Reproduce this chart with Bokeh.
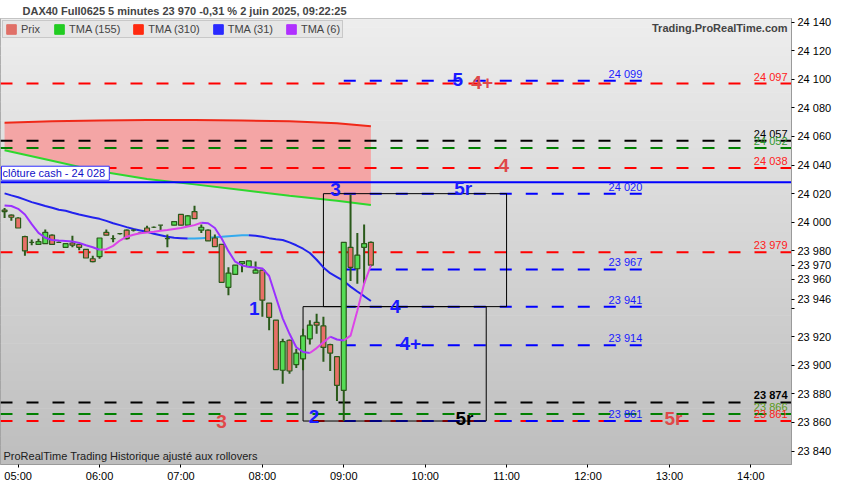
import numpy as np
import pandas as pd
from bokeh.plotting import figure
from bokeh.models import (ColumnDataSource, Label, Legend, LegendItem, FixedTicker,
                          DatetimeTickFormatter, Range1d)
from bokeh.core.properties import value
from bokeh.embed import file_html
from bokeh.resources import INLINE

DAY = "2025-06-02"

# ---------------- data ----------------
bar_start = "04:50"
bar_end = "09:20"
opens = [24008.5, 24005, 24003, 23990, 23986, 23984.5, 23985, 23991, 23986, 23982.5,
         23985.5, 23984.5, 23981, 23974.5, 23976, 23993, 23988.5, 23992, 23994.5, 23994.5,
         23992.5, 23996, 23996.5, 23998, 23988.5, 23998, 24005.5, 23998, 24007.5, 23994.5,
         23994.5, 23989, 23984.5, 23954.5, 23963.5, 23971, 23969, 23964.5, 23966.5, 23943.5,
         23931.5, 23896.5, 23917.5, 23900.5, 23904.5, 23918.5, 23930, 23927.5, 23914.5, 23906,
         23882.5, 23982.5, 23967.5, 23982.5, 23986]
highs = [24010, 24005.5, 24003.5, 23990.5, 23988, 23988.5, 23995, 23991.5, 23986.5, 23985,
         23990.5, 23984.5, 23981, 23976.5, 23989, 23995, 23991, 23992.5, 23995, 23995,
         23993, 23997.5, 23997, 23998, 23991.5, 24000.5, 24005.5, 24005, 24011.5, 23998.5,
         23995, 23991.5, 23984.5, 23968.5, 23970, 23972.5, 23973, 23972.5, 23966.5, 23943.5,
         23931.5, 23918.5, 23918, 23911.5, 23925.5, 23931.5, 23936, 23934, 23915, 23906,
         23986, 24019.5, 23992.5, 23998.5, 23986.5]
lows = [24003, 24001, 23996, 23976.5, 23984, 23984.5, 23985, 23984.5, 23985.5, 23982.5,
        23982.5, 23980.5, 23975, 23972, 23974.5, 23991, 23986, 23991.5, 23988, 23993.5,
        23992, 23993, 23996, 23994.5, 23982.5, 23998, 23998, 23998, 24002.5, 23992.5,
        23987, 23983, 23958, 23949, 23963.5, 23965, 23969, 23964.5, 23934, 23924.5,
        23897, 23887, 23894, 23898, 23896.5, 23914.5, 23922, 23902.5, 23896, 23875,
        23861, 23959, 23957, 23957, 23969]
closes = [24007.5, 24003.5, 23996, 23980, 23986, 23986.5, 23993, 23984.5, 23986, 23985,
          23984, 23982.5, 23975, 23972.5, 23989, 23991, 23988.5, 23992, 23988.5, 23994.5,
          23992.5, 23993.5, 23996.5, 23998, 23988.5, 24000.5, 23998, 24004.5, 24002.5, 23996.5,
          23987, 23983, 23958, 23964.5, 23970, 23972.5, 23973, 23966.5, 23945.5, 23933.5,
          23897, 23916.5, 23896, 23908.5, 23920.5, 23928, 23928, 23912.5, 23908.5, 23886,
          23986, 23968.5, 23977, 23985, 23970]

tma6 = [24011.8, 24011.4, 24009.4, 24005.4, 23998.7, 23992.6, 23989.2, 23987.6, 23987.2, 23986.9,
        23986.6, 23985.6, 23983.9, 23982.5, 23980.8, 23981.2, 23983.5, 23987.2, 23989.9, 23991.3,
        23992.3, 23992.9, 23993.3, 23994.0, 23994.6, 23995.3, 23996.0, 23997.0, 23998.0, 23999.7,
        23999.3, 23996.0, 23988.6, 23979.8, 23972.4, 23969.8, 23968.8, 23968.4, 23967.7, 23962.4,
        23947.6, 23932.8, 23922.0, 23912.6, 23909.3, 23908.6, 23912.0, 23916.0, 23920.0, 23918.0,
        23917.3, 23920.7, 23938.2, 23957.0, 23969.8]
tma31 = [24020.2, 24018.8, 24017.5, 24015.8, 24014.1, 24012.8, 24011.4, 24010.1, 24008.7, 24008.1,
         24006.7, 24005.4, 24004.4, 24003.4, 24002.4, 24001.0, 23999.3, 23998.0, 23996.6, 23995.3,
         23994.3, 23993.3, 23991.9, 23990.9, 23989.9, 23989.2, 23988.9, 23988.6, 23988.6, 23988.9,
         23989.2, 23989.6, 23989.9, 23990.3, 23990.6, 23990.9, 23990.9, 23990.6, 23989.9, 23988.9,
         23988.2, 23987.6, 23985.9, 23983.9, 23981.5, 23978.5, 23973.8, 23968.4, 23964.4, 23961.7,
         23959.0, 23955.0, 23951.6, 23948.3, 23944.9]

slow_times = ["04:50", "05:25", "06:00", "06:35", "07:10", "07:45", "08:20", "08:55", "09:20"]
tma155 = [24050.4, 24043.0, 24035.6, 24030.2, 24026.5, 24022.5, 24018.5, 24015.1, 24012.1]
tma310 = [24069.6, 24070.6, 24071.2, 24071.6, 24071.6, 24071.2, 24070.6, 24069.2, 24067.2]

full_levels = [24097, 24057, 24052, 24038, 23979, 23874, 23866, 23861]
full_level_labels = ["24 097", "24 057", "24 052", "24 038", "23 979", "23 874", "23 866", "23 861"]
cash_close = 24028
cash_label = "clôture cash -  24 028"

proj_levels = [24099, 24020, 23967, 23941, 23914, 23861]
proj_labels = ["24 099", "24 020", "23 967", "23 941", "23 914", "23 861"]
proj_start = "09:00"
proj_end = "12:40"

box_starts = ["08:45", "08:30"]
box_ends = ["11:00", "10:45"]
box_lows = [23941, 23861]
box_highs = [24020, 23941]

marker_texts = ["5", "4+", "4", "5r", "3", "1", "4", "4+", "2", "3", "5r", "5r"]
marker_times = ["10:24", "10:42", "10:58", "10:28", "08:54", "07:54", "09:38", "09:49",
                "08:38", "07:30", "10:29", "13:03"]
marker_prices = [24100, 24098, 24040, 24023.5, 24023, 23940, 23941, 23915, 23864, 23861,
                 23863, 23863]

hour_ticks = ["05:00", "06:00", "07:00", "08:00", "09:00", "10:00", "11:00", "12:00", "13:00", "14:00"]
price_ticks = list(range(23840, 24141, 20))

title_text = "DAX40 Full0625 5 minutes 23 970 -0,31 % 2 juin 2025, 09:22:25"
site_text = "Trading.ProRealTime.com"
footer_text = "ProRealTime Trading  Historique ajusté aux rollovers"
last_price = 23970
last_tma31 = 23946

# ---------------- styles ----------------
FONT = "Liberation Sans"
full_level_colors = ["#ff0000", "#000000", "#008000", "#ff0000", "#ff0000", "#000000", "#008000", "#ff0000"]
full_label_colors = ["#ff2020", "#000000", "#2e9a2e", "#ff2020", "#ff2020", "#000000", "#5a9a20", "#ff2020"]
full_label_styles = ["normal", "normal", "normal", "normal", "normal", "bold", "normal", "normal"]
marker_colors = ["#1a1aff", "#e04848", "#e04848", "#1a1aff", "#1a1aff", "#1a1aff", "#1a1aff",
                 "#1a1aff", "#1a1aff", "#e04848", "#000000", "#e04848"]


def ms(hhmm):
    return pd.Timestamp(f"{DAY} {hhmm}").value / 1e6


def fmt_price(v):
    return f"{v // 1000} {v % 1000:03d}"


bar_times = [t.value / 1e6 for t in pd.date_range(f"{DAY} {bar_start}", f"{DAY} {bar_end}", freq="5min")]
x0, x1 = ms("04:47"), ms("14:30")
y0, y1 = 23830.6, 24142.5

p = figure(width=834, height=484, x_axis_type="datetime", y_axis_location="right",
           x_range=Range1d(x0, x1), y_range=Range1d(y0, y1),
           output_backend="svg", toolbar_location=None,
           min_border_left=0, min_border_right=4, min_border_top=4, min_border_bottom=2)
p.border_fill_color = "#ffffff"
p.outline_line_color = "#9a9a9a"
p.xgrid.visible = False
p.ygrid.visible = False

p.title.text = title_text
p.title.text_font = FONT
p.title.text_font_size = "11px"
p.title.text_font_style = "bold"
p.title.offset = 22
p.title.standoff = 4

# background gradient
n = 48
edges = np.linspace(y0, y1, n + 1)
shades = np.linspace(190, 237, n)
cols = ["#%02x%02x%02x" % (int(s), int(s), int(s)) for s in shades]
p.quad(left=x0, right=x1, bottom=edges[:-1], top=edges[1:] + 0.4, fill_color=cols, line_color=None)

# slow TMAs with fill
slow_x = [ms(t) for t in slow_times]
p.varea(x=slow_x, y1=tma155, y2=tma310, fill_color="#f4a5a5", fill_alpha=1)
p.line(slow_x, tma310, line_color="#f02818", line_width=2)
p.line(slow_x, tma155, line_color="#2ed82e", line_width=2)

# levels
for lv, c in zip(full_levels, full_level_colors):
    p.line([x0, x1], [lv, lv], line_color=c, line_width=2, line_dash="12 14")
p.line([x0, x1], [cash_close, cash_close], line_color="#0000ff", line_width=2)
for lv in proj_levels:
    p.line([ms(proj_start), ms(proj_end)], [lv, lv], line_color="#0000ff", line_width=2, line_dash="12 14")

# boxes
p.quad(left=[ms(t) for t in box_starts], right=[ms(t) for t in box_ends],
       bottom=box_lows, top=box_highs, fill_color=None, line_color="#000000", line_width=1)


def runs(xs, vals, up, down):
    xl, yl, cl = [], [], []
    cur = None
    for i in range(len(vals) - 1):
        c = up if vals[i + 1] >= vals[i] else down
        if c != cur:
            xl.append([xs[i]]); yl.append([vals[i]]); cl.append(c); cur = c
        xl[-1].append(xs[i + 1]); yl[-1].append(vals[i + 1])
    return xl, yl, cl


xl, yl, cl = runs(bar_times, tma31, "#33aaee", "#2222ee")
p.multi_line(xs=xl, ys=yl, line_color=cl, line_width=2)

# candles
half = 5 * 60 * 1000 * 0.36
src = ColumnDataSource(dict(
    t=bar_times, o=opens, h=highs, l=lows, c=closes,
    top=[max(a, b) for a, b in zip(opens, closes)],
    bot=[min(a, b) for a, b in zip(opens, closes)],
    col=["#55dd55" if c >= o else "#e87068" for o, c in zip(opens, closes)]))
p.segment(x0="t", y0="l", x1="t", y1="h", source=src, line_color="#2a5a1a", line_width=2)
p.vbar(x="t", top="top", bottom="bot", width=2 * half, source=src,
       fill_color="col", line_color="#2a5a1a", line_width=1.2)

xl, yl, cl = runs(bar_times, tma6, "#dd44e8", "#9a30ff")
p.multi_line(xs=xl, ys=yl, line_color=cl, line_width=2)

# level labels
lab_src = ColumnDataSource(dict(x=[x1] * len(full_levels), y=full_levels, text=full_level_labels,
                                color=full_label_colors, style=full_label_styles))
p.text(x="x", y="y", text="text", source=lab_src, text_color="color", text_font_style="style",
       text_font=value(FONT), text_font_size="11px", text_align="right", text_baseline="bottom",
       x_offset=-4, y_offset=-1)
proj_src = ColumnDataSource(dict(x=[ms(proj_end)] * len(proj_levels), y=proj_levels, text=proj_labels))
p.text(x="x", y="y", text="text", source=proj_src, text_color="#1a1aff",
       text_font=value(FONT), text_font_size="11px", text_align="right", text_baseline="bottom",
       x_offset=0, y_offset=-1)

# wave markers
mk = ColumnDataSource(dict(x=[ms(t) for t in marker_times], y=marker_prices, text=marker_texts,
                           color=marker_colors))
p.text(x="x", y="y", text="text", source=mk, text_color="color", text_font=value(FONT),
       text_font_size="19px", text_font_style="bold", text_align="center", text_baseline="middle")

# cash close label
p.add_layout(Label(x=x0, y=cash_close, x_offset=1, y_offset=2, text=cash_label,
                   text_font=FONT, text_font_size="11px", text_color="#1010c8",
                   text_baseline="bottom", background_fill_color="#ffffff",
                   border_line_color="#3030ff", padding=1))
# footer
p.add_layout(Label(x=x0, y=y0, x_offset=3, y_offset=3, text=footer_text,
                   text_font=FONT, text_font_size="11px", text_color="#202020",
                   text_baseline="bottom"))
# site name (top right corner of the frame)
p.add_layout(Label(x=x1, y=y1, x_offset=-4, y_offset=-3, text=site_text,
                   text_font=FONT, text_font_size="11px", text_font_style="bold",
                   text_align="right", text_baseline="top"))

# x axis
p.xaxis.ticker = FixedTicker(ticks=[ms(t) for t in hour_ticks])
fmt = "%H:%M"
p.xaxis.formatter = DatetimeTickFormatter(hours=fmt, hourmin=fmt, minutes=fmt, minsec=fmt, days=fmt)
p.xaxis.minor_tick_line_color = None
p.xaxis.major_tick_in = 0
p.xaxis.major_tick_out = 3
p.xaxis.major_label_standoff = 2
p.xaxis.axis_line_color = "#9a9a9a"
p.xaxis.major_label_text_font = FONT
p.xaxis.major_label_text_font_size = "11px"
p.xaxis.major_label_text_color = "#000000"

# price axis: regular ticks plus the last price and the TMA31 tag
ya = p.yaxis[0]
axis_ticks = sorted(price_ticks + [last_price, last_tma31])
ya.ticker = FixedTicker(ticks=axis_ticks)
ya.major_label_overrides = {t: ("" if t == 23940 else fmt_price(t)) for t in axis_ticks}
ya.minor_tick_line_color = None
ya.major_tick_in = 0
ya.major_tick_out = 3
ya.major_label_standoff = 3
ya.axis_line_color = "#9a9a9a"
ya.major_label_text_font = FONT
ya.major_label_text_font_size = "11px"
ya.major_label_text_color = "#000000"

# legend row
legend_entries = [("Prix", "#e07068"), ("TMA (155)", "#22cc22"), ("TMA (310)", "#ff2a10"),
                  ("TMA (31)", "#2a2aff"), ("TMA (6)", "#b030ff")]
items = []
for name, c in legend_entries:
    r = p.rect(x=[x0 - 1e9], y=[y0 - 1000], width=1, height=1, fill_color=c, line_color=c)
    items.append(LegendItem(label=name, renderers=[r]))
leg = Legend(items=items, orientation="horizontal", location="top_left", margin=2, padding=2,
             spacing=12, glyph_width=12, glyph_height=12, label_height=12, label_standoff=4,
             label_text_font=FONT, label_text_font_size="11px", border_line_color="#aaaaaa",
             background_fill_color="#e6e6e6", background_fill_alpha=1)
p.add_layout(leg)

open("out.html", "w").write(file_html(p, INLINE))
